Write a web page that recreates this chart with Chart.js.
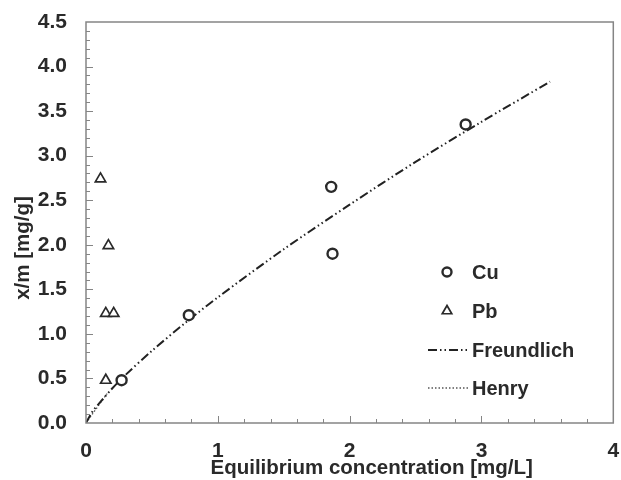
<!DOCTYPE html>
<html>
<head>
<meta charset="utf-8">
<script src="https://cdn.jsdelivr.net/npm/chart.js@4/dist/chart.umd.min.js"></script>
<style>
  html, body { margin: 0; padding: 0; background: #fff; }
  #wrap { width: 621px; height: 480px; }
</style>
</head>
<body>
<div id="wrap"><canvas id="chart" width="621" height="480"></canvas></div>
<script>
// measured points
const cuX = [0.27, 0.78, 1.86, 1.87, 2.88];
const cuY = [0.48, 1.21, 2.65, 1.90, 3.35];
const pbX = [0.11, 0.17, 0.15, 0.21, 0.15];
const pbY = [2.74, 1.99, 1.23, 1.23, 0.48];
// fitted curves
const freundlichX = [0, 0.05, 0.1, 0.2, 0.3, 0.5, 0.75, 1, 1.5, 2, 2.5, 3, 3.52];
const freundlichY = [0, 0.13, 0.22, 0.39, 0.54, 0.81, 1.12, 1.41, 1.95, 2.45, 2.93, 3.38, 3.83];
const henryX = [0, 0.16];
const henryY = [0, 0.33];
const seriesNames = ['Cu', 'Pb', 'Freundlich', 'Henry'];
const xTicks = [0, 1, 2, 3, 4];
const yTicks = [0, 0.5, 1, 1.5, 2, 2.5, 3, 3.5, 4, 4.5];
const xTitle = 'Equilibrium concentration [mg/L]';
const yTitle = 'x/m [mg/g]';

const pts = (xs, ys) => xs.map((x, i) => ({ x: x, y: ys[i] }));
const FONT = "'Liberation Sans', Arial, sans-serif";
const ink = '#2a2a2a';
const frame = '#858585';

// frame + inward tick marks
const framePlugin = {
  id: 'framePlugin',
  afterDraw(chart) {
    const { ctx, chartArea: a, scales } = chart;
    ctx.save();
    ctx.strokeStyle = frame;
    ctx.lineWidth = 1.5;
    ctx.strokeRect(a.left, a.top, a.right - a.left, a.bottom - a.top);
    ctx.lineWidth = 1;
    ctx.beginPath();
    for (let i = 1; i < 20; i++) {
      const v = i * 0.2;
      const px = Math.round(scales.x.getPixelForValue(v)) + 0.5;
      const len = (i % 5 === 0) ? 7 : 4;
      ctx.moveTo(px, a.bottom);
      ctx.lineTo(px, a.bottom - len);
    }
    for (let i = 1; i < 45; i++) {
      const v = i * 0.1;
      const py = Math.round(scales.y.getPixelForValue(v)) + 0.5;
      const len = (i % 5 === 0) ? 7 : 4;
      ctx.moveTo(a.left, py);
      ctx.lineTo(a.left + len, py);
    }
    ctx.stroke();

    // axis titles (off-centre in the original)
    ctx.fillStyle = ink;
    ctx.font = 'bold 20.5px ' + FONT;
    ctx.textAlign = 'center';
    ctx.textBaseline = 'middle';
    ctx.fillText(xTitle, (a.left + a.right) / 2 + 22, 468);
    ctx.translate(23, 248);
    ctx.rotate(-Math.PI / 2);
    ctx.fillText(yTitle, 0, 0);
    ctx.restore();
  }
};

// legend inside the plot, bottom right
const legendPlugin = {
  id: 'insideLegend',
  afterDraw(chart) {
    const { ctx, chartArea: a } = chart;
    const sx = a.left + 361;
    const tx = a.left + 386;
    const rows = [a.top + 250, a.top + 289, a.top + 328, a.top + 366];
    ctx.save();
    ctx.font = 'bold 20px ' + FONT;
    ctx.textBaseline = 'middle';
    chart.data.datasets.forEach((ds, i) => {
      const y = rows[i];
      ctx.strokeStyle = ds.borderColor;
      if (ds.showLine) {
        ctx.lineWidth = ds.borderWidth;
        ctx.setLineDash(ds.borderDash || []);
        ctx.beginPath();
        ctx.moveTo(sx - 19, y);
        ctx.lineTo(sx + 21, y);
        ctx.stroke();
        ctx.setLineDash([]);
      } else {
        ctx.fillStyle = '#fff';
        ctx.lineWidth = ds.pointBorderWidth;
        Chart.helpers.drawPoint(ctx, {
          pointStyle: ds.pointStyle,
          radius: ds.pointRadius - 0.5,
          borderWidth: ds.pointBorderWidth
        }, sx, y);
      }
      ctx.fillStyle = ink;
      ctx.fillText(ds.label, tx, y + 1);
    });
    ctx.restore();
  }
};

new Chart(document.getElementById('chart').getContext('2d'), {
  type: 'scatter',
  data: {
    datasets: [
      {
        label: seriesNames[0],
        data: pts(cuX, cuY),
        pointStyle: 'circle',
        pointRadius: 5,
        pointBorderWidth: 2.4,
        borderColor: ink,
        backgroundColor: '#fff',
        showLine: false
      },
      {
        label: seriesNames[1],
        data: pts(pbX, pbY),
        pointStyle: 'triangle',
        pointRadius: 6,
        pointBorderWidth: 1.7,
        borderColor: ink,
        backgroundColor: '#fff',
        showLine: false
      },
      {
        label: seriesNames[2],
        data: pts(freundlichX, freundlichY),
        showLine: true,
        borderColor: '#222',
        borderWidth: 2,
        borderDash: [9, 3, 1.5, 3, 1.5, 3],
        pointRadius: 0,
        tension: 0.3,
        order: 5
      },
      {
        label: seriesNames[3],
        data: pts(henryX, henryY),
        showLine: true,
        borderColor: '#555',
        borderWidth: 1.3,
        borderDash: [1.5, 2],
        pointRadius: 0,
        order: 6
      }
    ]
  },
  options: {
    responsive: false,
    animation: false,
    layout: { padding: { top: 22, right: 7, left: 0, bottom: 0 } },
    plugins: {
      legend: { display: false },
      tooltip: { enabled: false }
    },
    scales: {
      x: {
        type: 'linear',
        min: 0, max: 4,
        afterBuildTicks: (s) => { s.ticks = xTicks.map(v => ({ value: v })); },
        afterFit: (s) => { s.height = 57; s.paddingLeft = 0; s.paddingRight = 0; },
        grid: { display: false, drawTicks: false },
        border: { display: false },
        ticks: {
          padding: 16,
          color: ink,
          maxRotation: 0,
          font: { family: FONT, size: 21, weight: 'bold' },
          callback: (v) => String(v)
        }
      },
      y: {
        type: 'linear',
        min: 0, max: 4.5,
        afterBuildTicks: (s) => { s.ticks = yTicks.map(v => ({ value: v })); },
        afterFit: (s) => { s.width = 86; s.paddingTop = 0; s.paddingBottom = 0; },
        grid: { display: false, drawTicks: false },
        border: { display: false },
        ticks: {
          padding: 19,
          color: ink,
          font: { family: FONT, size: 21, weight: 'bold' },
          callback: (v) => Number(v).toFixed(1)
        }
      }
    }
  },
  plugins: [framePlugin, legendPlugin]
});
</script>
</body>
</html>
